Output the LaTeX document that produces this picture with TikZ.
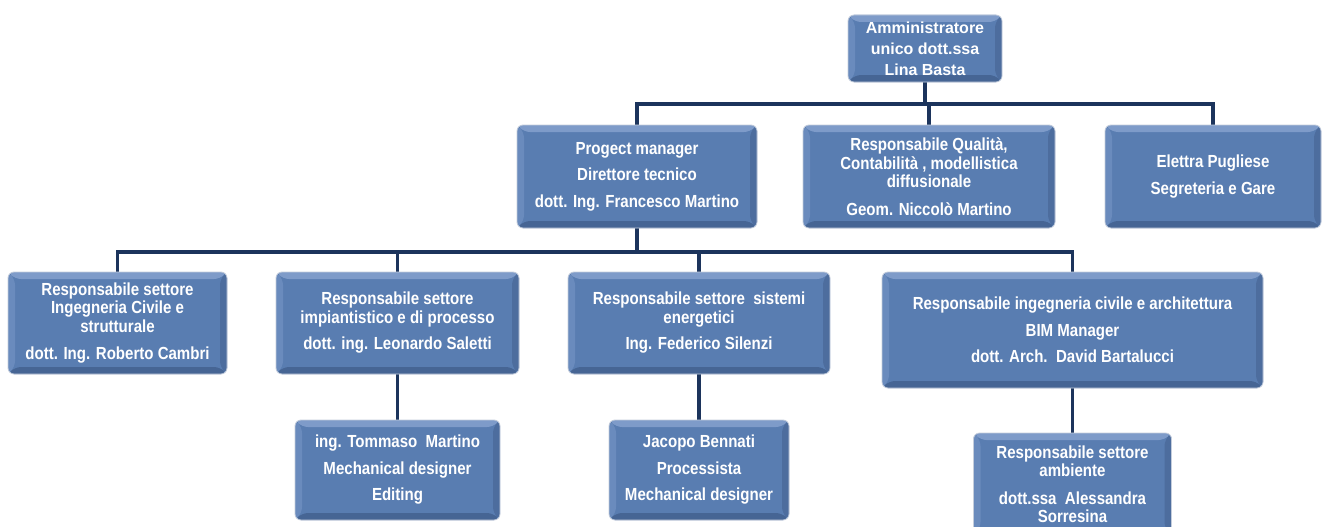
\documentclass[tikz,border=0pt]{standalone}
\usepackage{fontspec}
\setmainfont{Liberation Sans}[FakeStretch=0.86]
\newfontfamily\topfont{Liberation Sans}
\usetikzlibrary{backgrounds}
\definecolor{boxblue}{RGB}{89,125,177}
\definecolor{bevtop}{RGB}{126,155,201}
\definecolor{bevleft}{RGB}{106,139,189}
\definecolor{bevbot}{RGB}{70,101,148}
\definecolor{bevright}{RGB}{77,109,158}
\definecolor{linenavy}{RGB}{28,52,92}
\definecolor{edgegray}{RGB}{196,205,220}
\tikzset{
  orgbox/.style={rectangle, rounded corners=6pt, fill=boxblue, draw=edgegray,
    line width=0.8pt, text=white, align=center, inner sep=0pt,
    font=\fontsize{17.5}{18.5}\selectfont\bfseries,
    path picture={
      \fill[bevtop] (path picture bounding box.north west) -- (path picture bounding box.north east)
        -- ([shift={(-7pt,-7pt)}]path picture bounding box.north east)
        -- ([shift={(7pt,-7pt)}]path picture bounding box.north west) -- cycle;
      \fill[bevleft] (path picture bounding box.north west) -- ([shift={(7pt,-7pt)}]path picture bounding box.north west)
        -- ([shift={(7pt,7pt)}]path picture bounding box.south west)
        -- (path picture bounding box.south west) -- cycle;
      \fill[bevbot] (path picture bounding box.south west) -- ([shift={(7pt,7pt)}]path picture bounding box.south west)
        -- ([shift={(-7pt,7pt)}]path picture bounding box.south east)
        -- (path picture bounding box.south east) -- cycle;
      \fill[bevright] (path picture bounding box.north east) -- ([shift={(-7pt,-7pt)}]path picture bounding box.north east)
        -- ([shift={(-7pt,7pt)}]path picture bounding box.south east)
        -- (path picture bounding box.south east) -- cycle;
    }},
  topbox/.style={orgbox, font=\topfont\fontsize{16}{21}\selectfont\bfseries},
  conn/.style={draw=linenavy, line width=3.5pt},
}
\begin{document}
\begin{tikzpicture}[x=1pt, y=-1pt]
\useasboundingbox (0,0) rectangle (1322,527);
\clip (0,0) rectangle (1322,527);

% level 0
\node[topbox, minimum width=154pt, minimum height=67pt] (top) at (925,48.5)
  {Amministratore\\unico dott.ssa\\Lina Basta};

% level 1
\node[orgbox, minimum width=240pt, minimum height=103pt] (pm) at (637,176.5)
  {Progect manager\\[8pt]Direttore tecnico\\[8pt]dott. Ing. Francesco Martino};
\node[orgbox, minimum width=252pt, minimum height=103pt] (qual) at (929,176.5)
  {Responsabile Qualità,\\Contabilità , modellistica\\diffusionale\\[9pt]Geom. Niccolò Martino};
\node[orgbox, minimum width=216pt, minimum height=103pt] (elet) at (1213,176.5)
  {Elettra Pugliese\\[8pt]Segreteria e Gare};

% level 2
\node[orgbox, minimum width=219pt, minimum height=102pt] (ra) at (117.5,323)
  {Responsabile settore\\Ingegneria Civile e\\strutturale\\[9pt]dott. Ing. Roberto Cambri};
\node[orgbox, minimum width=243pt, minimum height=102pt] (rb) at (397.5,323)
  {Responsabile settore\\impiantistico e di processo\\[8pt]dott. ing. Leonardo Saletti};
\node[orgbox, minimum width=262pt, minimum height=102pt] (rc) at (699,323)
  {Responsabile settore~~sistemi\\energetici\\[8pt]Ing. Federico Silenzi};
\node[orgbox, minimum width=381pt, minimum height=116pt] (rd) at (1072.5,330)
  {Responsabile ingegneria civile e architettura\\[8pt]BIM Manager\\[8pt]dott. Arch.~~David Bartalucci};

% level 3
\node[orgbox, minimum width=205pt, minimum height=100pt] (tm) at (397.5,470)
  {ing. Tommaso~~Martino\\[8pt]Mechanical designer\\[8pt]Editing};
\node[orgbox, minimum width=180pt, minimum height=100pt] (jb) at (699,470)
  {Jacopo Bennati\\[8pt]Processista\\[8pt]Mechanical designer};
\node[orgbox, minimum width=198pt, minimum height=102pt] (am) at (1072.5,484)
  {Responsabile settore\\ambiente\\[9pt]dott.ssa~~Alessandra\\Sorresina};

\begin{scope}[on background layer]
  \fill[white] (0,0) rectangle (1322,527);
  \coordinate (b1) at (0,104);
  \coordinate (b2) at (0,252);
  \draw[conn] (top.south) -- (top.south |- b1);
  \draw[conn] (pm.north) -- (pm.north |- b1) -- (elet.north |- b1) -- (elet.north);
  \draw[conn] (qual.north) -- (qual.north |- b1);
  \draw[conn] (pm.south) -- (pm.south |- b2);
  \draw[conn] (ra.north) -- (ra.north |- b2) -- (rd.north |- b2) -- (rd.north);
  \draw[conn] (rb.north) -- (rb.north |- b2);
  \draw[conn] (rc.north) -- (rc.north |- b2);
  \draw[conn] (rb.south) -- (tm.north);
  \draw[conn] (rc.south) -- (jb.north);
  \draw[conn] (rd.south) -- (am.north);
\end{scope}
\end{tikzpicture}
\end{document}
